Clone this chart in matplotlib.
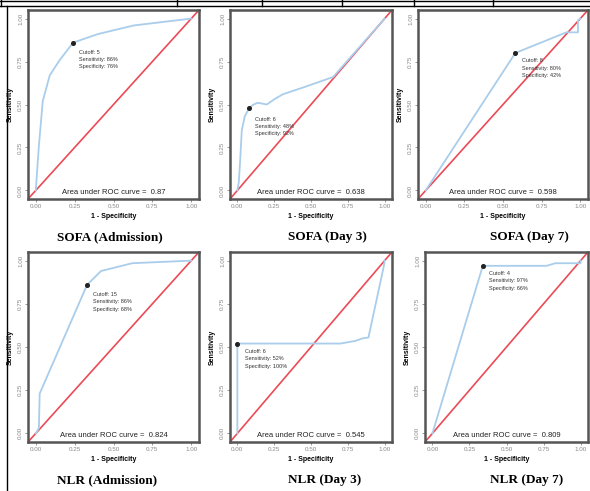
import matplotlib
matplotlib.use("Agg")
import matplotlib.pyplot as plt
from matplotlib.lines import Line2D

plt.rcParams['font.family'] = ['Liberation Sans', 'DejaVu Sans']

# panel captions
titles = ["SOFA (Admission)", "SOFA (Day 3)", "SOFA (Day 7)",
          "NLR (Admission)", "NLR (Day 3)", "NLR (Day 7)"]

# ROC curves: x = 1 - specificity, y = sensitivity
sofa_adm_x = [0, 0.02, 0.045, 0.09, 0.155, 0.24, 0.40, 0.63, 1.0]
sofa_adm_y = [0, 0.26, 0.52, 0.67, 0.76, 0.86, 0.91, 0.96, 1.0]
sofa_d3_x = [0, 0.01, 0.02, 0.03, 0.05, 0.08, 0.11, 0.14, 0.20, 0.25, 0.31, 0.45, 0.55, 0.65, 1.0]
sofa_d3_y = [0, 0.05, 0.19, 0.35, 0.43, 0.48, 0.50, 0.51, 0.50, 0.53, 0.56, 0.60, 0.63, 0.66, 1.0]
sofa_d7_x = [0, 0.58, 0.91, 0.985, 0.985, 1.0]
sofa_d7_y = [0, 0.80, 0.92, 0.92, 0.99, 1.0]
nlr_adm_x = [0, 0.02, 0.025, 0.33, 0.42, 0.62, 1.0]
nlr_adm_y = [0, 0.03, 0.23, 0.86, 0.94, 0.985, 1.0]
nlr_d3_x = [0, 0, 0.45, 0.70, 0.80, 0.85, 0.89, 0.995, 1.0]
nlr_d3_y = [0, 0.52, 0.52, 0.52, 0.535, 0.55, 0.555, 0.97, 1.0]
nlr_d7_x = [0, 0.34, 0.77, 0.83, 1.0, 1.0]
nlr_d7_y = [0, 0.97, 0.97, 0.985, 0.985, 1.0]

curves_x = [sofa_adm_x, sofa_d3_x, sofa_d7_x, nlr_adm_x, nlr_d3_x, nlr_d7_x]
curves_y = [sofa_adm_y, sofa_d3_y, sofa_d7_y, nlr_adm_y, nlr_d3_y, nlr_d7_y]

# optimal cutoff points
cut_x = [0.24, 0.08, 0.58, 0.33, 0.0, 0.34]
cut_y = [0.86, 0.48, 0.80, 0.86, 0.52, 0.97]
cutoffs = [5, 6, 8, 15, 6, 4]
sens = [86, 48, 80, 86, 52, 97]
spec = [76, 92, 42, 68, 100, 66]
auc = ["0.87", "0.638", "0.598", "0.824", "0.545", "0.809"]

# where the cutoff text starts (data coords)
lab_x = [0.28, 0.12, 0.62, 0.37, 0.05, 0.38]
lab_y = [0.82, 0.43, 0.77, 0.82, 0.49, 0.94]

W, H = 590, 491
fig = plt.figure(figsize=(W / 100, H / 100), dpi=100)

# axes boxes in pixels: left, top, right, bottom
boxes = [(28, 10, 199, 199), (230, 10, 392, 199), (418, 10, 588, 199),
         (28, 252, 199, 442), (230, 252, 392, 442), (425, 252, 588, 442)]
# caption centres in pixels (x)
cap_x = [110, 327, 529, 107, 325, 527]

blue = "#a9cdea"
red = "#ec4a55"
ticks = [0, 0.25, 0.5, 0.75, 1.0]
ticklabels = ["0.00", "0.25", "0.50", "0.75", "1.00"]

for i in range(6):
    l, t, r, b = boxes[i]
    ax = fig.add_axes([l / W, 1 - b / H, (r - l) / W, (b - t) / H])
    ax.set_xlim(-0.05, 1.05)
    ax.set_ylim(-0.05, 1.05)
    ax.plot([-0.05, 1.05], [-0.05, 1.05], color=red, lw=1.2)
    ax.plot(curves_x[i], curves_y[i], color=blue, lw=1.3)
    ax.plot(cut_x[i], cut_y[i], "o", color="#222222", ms=2.6)
    ax.text(lab_x[i], lab_y[i],
            "Cutoff: %d\nSensitivity: %d%%\nSpecificity: %d%%" % (cutoffs[i], sens[i], spec[i]),
            fontsize=4, va="top", ha="left", color="#333333", linespacing=1.6)
    ax.text(0.5, -0.035, "Area under ROC curve =  " + auc[i], fontsize=5.5,
            ha="center", va="bottom", color="#222222")
    ax.set_xticks(ticks)
    ax.set_xticklabels(ticklabels)
    ax.set_yticks(ticks)
    ax.set_yticklabels(ticklabels, rotation=90, va="center")
    ax.tick_params(labelsize=4.5, labelcolor="#888888", color="#888888",
                   length=2, width=0.6, pad=1.5)
    ax.set_xlabel("1 - Specificity", fontsize=5, fontweight="bold", labelpad=3)
    ax.set_ylabel("Sensitivity", fontsize=5, fontweight="bold", labelpad=3)
    for s in ax.spines.values():
        s.set_color("#555555")
        s.set_linewidth(1.8)
    # caption under the panel
    fig.text(cap_x[i] / W, 1 - (b + 38) / H, titles[i], ha="center", va="center",
             fontsize=9.5, fontweight="bold", family="Liberation Serif")

# table lines around the figure
def line(x0, y0, x1, y1, lw=1.0):
    fig.add_artist(Line2D([x0 / W, x1 / W], [1 - y0 / H, 1 - y1 / H],
                          color="black", lw=lw, transform=fig.transFigure))

line(0, 0.5, W, 0.5)
line(0, 6, W, 6)
for xd in [0.5, 177, 262, 342, 414, 493]:
    line(xd, 0, xd, 6)
line(6.5, 6, 6.5, H)

fig.savefig("out.png", dpi=100)
